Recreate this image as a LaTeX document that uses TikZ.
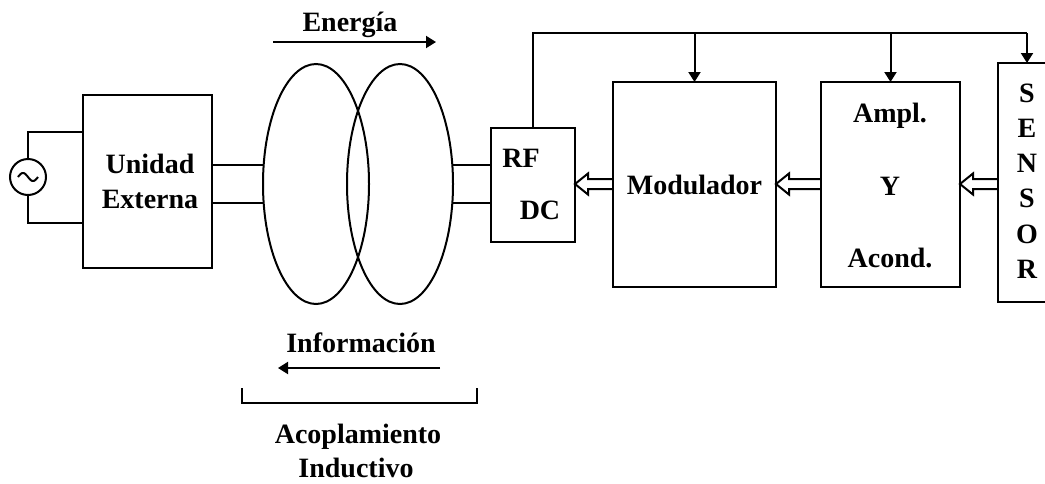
\documentclass[tikz,border=0pt]{standalone}
\usepackage{fontspec}
\setmainfont{Liberation Serif}
\usetikzlibrary{shapes.geometric,arrows.meta,calc}
\tikzset{
  wire/.style={line width=2pt},
  blk/.style={draw,line width=2pt,rectangle,inner sep=0pt,outer sep=0pt},
  coil/.style={draw,line width=2pt,ellipse,inner sep=0pt,outer sep=0pt,minimum width=106pt,minimum height=240pt},
  lbl/.style={font=\fontsize{28}{35}\selectfont\bfseries,inner sep=0pt,anchor=base},
  tip/.style={-{Triangle[length=10pt,width=12pt]}},
}
\newcommand\hollowarr[2]{%
  \draw[wire,line join=miter] ($(#1)+(0,-5)$) -- ($(#2)+(13,-5)$) -- ($(#2)+(13,-10.5)$) -- (#2) -- ($(#2)+(13,10.5)$) -- ($(#2)+(13,5)$) -- ($(#1)+(0,5)$);}
\begin{document}
\begin{tikzpicture}[x=1pt,y=-1pt]
\useasboundingbox (0,0) rectangle (1045,483);
\fill[white] (0,0) rectangle (1045,483);
\clip (0,0) rectangle (1045,483);
% blocks
\node[draw,circle,line width=2pt,minimum size=36pt,inner sep=0pt,outer sep=0pt] (src) at (28,177) {};
\draw[wire,shift={(src.center)}] plot[domain=-10:10,samples=40,smooth] (\x,{4*sin(\x*18)});
\node[blk,minimum width=129pt,minimum height=173pt] (ue) at (147.5,181.5) {};
\node[coil] (ellL) at (316,184) {};
\node[coil] (ellR) at (400,184) {};
\node[blk,minimum width=84pt,minimum height=114pt] (rf) at (533,185) {};
\node[blk,minimum width=163pt,minimum height=205pt] (mod) at (694.5,184.5) {};
\node[blk,minimum width=139pt,minimum height=205pt] (amp) at (890.5,184.5) {};
\node[blk,minimum width=58pt,minimum height=239pt] (sen) at (1027,182.5) {};
% texts
\node[lbl] (t1) at (150,173) {Unidad};
\node[lbl] (t2) at (150,208) {Externa};
\node[lbl] (t3) at (521,167) {RF};
\node[lbl] (t4) at (540,219) {DC};
\node[lbl] (t5) at (694.5,194) {Modulador};
\node[lbl] (t6) at (890,122) {Ampl.};
\node[lbl] (t7) at (890,195) {Y};
\node[lbl] (t8) at (890,267) {Acond.};
\node[lbl] (s1) at (1027,102) {S};
\node[lbl] (s2) at (1027,137) {E};
\node[lbl] (s3) at (1027,172) {N};
\node[lbl] (s4) at (1027,207) {S};
\node[lbl] (s5) at (1027,243) {O};
\node[lbl] (s6) at (1027,278) {R};
\node[lbl] (en) at (350,31) {Energía};
\node[lbl] (inf) at (361,352) {Información};
\node[lbl] (ac1) at (358,443) {Acoplamiento};
\node[lbl] (ac2) at (356,477) {Inductivo};
% helper coordinates
\coordinate (yA) at (0,132);
\coordinate (yB) at (0,223);
\coordinate (w1) at (0,165);
\coordinate (w2) at (0,203);
\coordinate (yH) at (0,184);
\coordinate (fbR) at (1027,33);
% source wiring
\draw[wire] (src.north) |- (ue.west |- yA);
\draw[wire] (src.south) |- (ue.west |- yB);
% coupling wires
\draw[wire] (ue.east |- w1) -- (ellL.west |- w1);
\draw[wire] (ue.east |- w2) -- (ellL.west |- w2);
\draw[wire] (ellR.east |- w1) -- (rf.west |- w1);
\draw[wire] (ellR.east |- w2) -- (rf.west |- w2);
% feedback bus
\draw[wire] (rf.north) |- (fbR);
\draw[wire,tip] (fbR) -- (sen.north);
\draw[wire,tip] (mod.north |- fbR) -- (mod.north);
\draw[wire,tip] (amp.north |- fbR) -- (amp.north);
% hollow data arrows
\coordinate (h1s) at (mod.west |- yH); \coordinate (h1t) at (rf.east |- yH);
\coordinate (h2s) at (amp.west |- yH); \coordinate (h2t) at (mod.east |- yH);
\coordinate (h3s) at (sen.west |- yH); \coordinate (h3t) at (amp.east |- yH);
\hollowarr{h1s}{h1t}
\hollowarr{h2s}{h2t}
\hollowarr{h3s}{h3t}
% energy / information arrows
\coordinate (eA) at (273,42); \coordinate (eB) at (436,42);
\draw[wire,tip] (eA) -- (eB);
\coordinate (iA) at (440,368); \coordinate (iB) at (278,368);
\draw[wire,tip] (iA) -- (iB);
% bracket
\coordinate (b1) at (242,388); \coordinate (b2) at (477,388);
\coordinate (bb) at (0,403);
\draw[wire] (b1) -- (b1 |- bb) -- (b2 |- bb) -- (b2);
\end{tikzpicture}
\end{document}
